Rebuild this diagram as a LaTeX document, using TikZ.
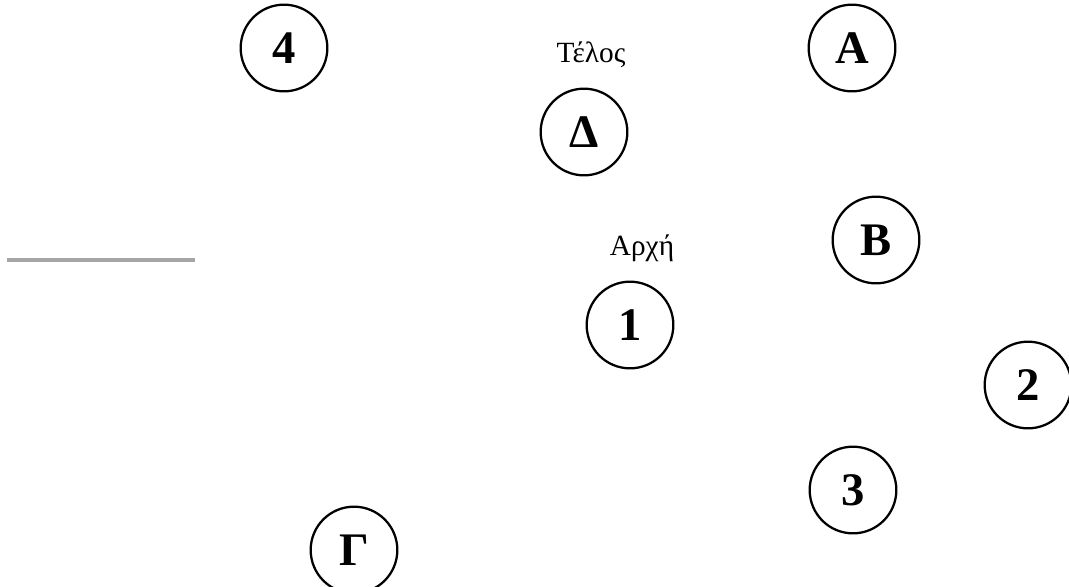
\documentclass[tikz,border=0pt]{standalone}
\usepackage{fontspec}
\setmainfont{Liberation Serif}
\begin{document}
\begin{tikzpicture}[x=0.75pt,y=-0.75pt,
  station/.style={draw=black,line width=1.7pt,circle,minimum size=65pt,inner sep=0pt,
    font=\fontsize{35}{37}\selectfont\bfseries},
  tag/.style={font=\fontsize{22}{24}\selectfont,inner sep=0pt}]
\useasboundingbox[fill=white] (0,0) rectangle (1069,586);
% separator bar on the left
\coordinate (barL) at (7,260);
\coordinate (barR) at (195,260);
\draw[line width=3pt,color=black!35] (barL) -- (barR);
% stations
\node[station] (n4) at (284,48) {4};
\node[station] (nA) at (852,48) {Α};
\node[station] (nD) at (584,132) {Δ};
\node[station] (nB) at (876,240) {Β};
\node[station] (n1) at (630,325) {1};
\node[station] (n2) at (1028,385) {2};
\node[station] (n3) at (853,490) {3};
\node[station] (nG) at (354,550) {Γ};
% labels
\node[tag] (end) at (591,55) {Τέλος};
\node[tag] (start) at (642,248) {Αρχή};
\end{tikzpicture}
\end{document}
